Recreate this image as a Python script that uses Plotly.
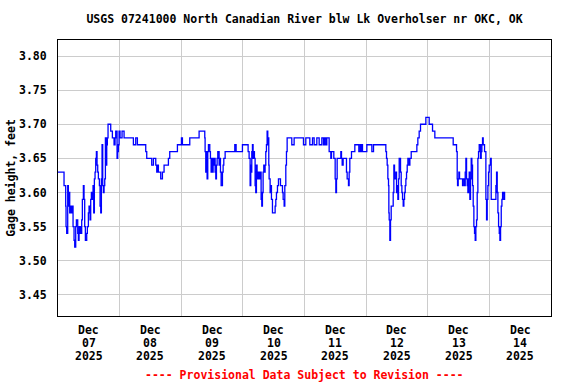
import pandas as pd
import plotly.graph_objects as go

# Hours since 2025-12-07 00:00 and gage height (ft)
hours = [0.0, 2.35, 3.0, 3.13, 3.39, 3.78, 4.04, 4.3, 4.56, 4.82, 5.21, 5.6, 5.86, 6.25, 6.51,
         6.9, 7.16, 7.68, 7.94, 8.2, 8.46, 8.72, 8.98, 9.23, 9.49, 9.88, 10.14, 10.4, 10.66,
         11.18, 11.44, 11.83, 12.09, 12.48, 12.74, 13.0, 13.39, 13.65, 13.91, 14.17, 14.43,
         14.69, 14.95, 15.21, 15.47, 15.73, 16.12, 16.38, 16.64, 16.9, 17.16, 17.42, 17.68,
         17.94, 18.2, 18.46, 18.72, 18.98, 19.23, 19.49, 20.53, 21.18, 21.83, 22.22, 22.48,
         23.0, 23.26, 23.52, 23.78, 24.17, 24.95, 25.73, 29.36, 30.27, 30.92, 34.17, 34.56,
         36.12, 36.5, 37.16, 38.07, 38.46, 38.72, 39.1, 40.0, 40.67, 41.31, 43.0, 43.52,
         46.51, 48.07, 48.46, 51.32, 54.95, 57.16, 57.29, 57.55, 57.81, 58.07, 58.33, 58.59,
         59.11, 59.37, 59.63, 59.89, 60.15, 60.41, 60.67, 60.93, 61.19, 61.45, 61.71, 61.97,
         62.23, 62.75, 63.01, 63.27, 63.53, 64.05, 64.31, 64.57, 65.09, 68.85, 69.37,
         71.83, 74.04, 74.43, 74.82, 75.08, 75.21, 75.47, 75.73, 75.98, 76.24, 76.5, 76.76,
         77.02, 77.28, 77.54, 77.8, 78.06, 78.32, 78.58, 78.84, 79.1, 79.36, 79.62, 79.88,
         80.14, 80.4, 80.66, 80.92, 81.18, 81.44, 81.7, 81.83, 82.09, 82.22, 82.61, 82.87,
         83.13, 83.52, 84.56, 84.82, 85.08, 85.47, 85.86, 86.64, 87.42, 87.68, 88.07, 88.33,
         88.72, 88.98, 89.24, 91.05, 91.96, 95.6, 96.51, 98.07, 99.11, 99.76, 100.8, 101.71,
         102.75, 103.4, 103.78, 104.3, 104.69, 105.6, 106.25, 106.51, 107.42, 107.94, 108.2,
         108.46, 108.72, 110.15, 110.41, 110.67, 111.05, 112.35, 112.61, 113.13, 113.39,
         113.65, 114.3, 115.6, 117.16, 117.68, 117.94, 118.2, 118.59, 120.28, 122.23, 122.88,
         127.68, 127.94, 128.2, 128.46, 128.72, 128.85, 128.98, 129.24, 129.5, 129.76, 130.54,
         130.8, 131.06, 131.58, 131.84, 132.1, 132.36, 132.62, 132.88, 133.4, 133.66, 133.92,
         134.18, 134.44, 134.7, 134.96, 135.22, 135.48, 135.74, 136.0, 136.26, 136.78, 137.04,
         137.56, 139.76, 140.14, 140.66, 141.18, 143.26, 144.56, 145.86, 146.76, 153.91,
         155.21, 155.47, 155.6, 155.86, 156.12, 156.38, 157.55, 157.81, 158.33, 158.59, 158.85,
         159.11, 159.37, 159.63, 159.88, 160.14, 160.4, 160.66, 160.92, 161.18, 161.44, 161.7,
         161.96, 162.22, 162.48, 162.74, 163.0, 163.26, 163.52, 163.78, 164.04, 164.56, 164.82,
         165.08, 165.34, 165.6, 166.12, 166.64, 166.9, 167.16, 167.42, 167.68, 167.94, 168.46,
         168.72, 170.54, 170.8, 171.06, 171.32, 171.58, 171.84, 172.1, 172.36, 172.62, 172.88,
         173.14, 173.66, 173.92, 174.18]
gage_ft = [3.63, 3.61, 3.58, 3.55, 3.54, 3.61, 3.58, 3.60, 3.57, 3.58, 3.57, 3.58, 3.55, 3.53, 3.52,
           3.55, 3.56, 3.54, 3.53, 3.55, 3.54, 3.55, 3.54, 3.56, 3.59, 3.61, 3.59, 3.55, 3.53,
           3.54, 3.55, 3.57, 3.58, 3.56, 3.59, 3.60, 3.59, 3.61, 3.57, 3.62, 3.63,
           3.65, 3.66, 3.64, 3.63, 3.62, 3.61, 3.58, 3.57, 3.62, 3.67, 3.61, 3.60,
           3.61, 3.62, 3.68, 3.64, 3.67, 3.68, 3.70, 3.69, 3.68, 3.67, 3.68, 3.69,
           3.65, 3.66, 3.67, 3.69, 3.68, 3.69, 3.68, 3.67, 3.68, 3.67, 3.66, 3.65,
           3.65, 3.64, 3.65, 3.64, 3.63, 3.64, 3.63, 3.62, 3.63, 3.64, 3.65, 3.66,
           3.67, 3.68, 3.67, 3.68, 3.69, 3.68, 3.66, 3.63, 3.66, 3.62, 3.66, 3.67,
           3.66, 3.65, 3.63, 3.65, 3.63, 3.65, 3.64, 3.65, 3.63, 3.62, 3.64, 3.65,
           3.66, 3.64, 3.65, 3.63, 3.61, 3.63, 3.64, 3.65, 3.66, 3.67, 3.66,
           3.67, 3.66, 3.65, 3.61, 3.64, 3.63, 3.66, 3.67, 3.65, 3.66, 3.65, 3.61,
           3.60, 3.64, 3.62, 3.63, 3.62, 3.63, 3.62, 3.63, 3.59, 3.58, 3.60, 3.63,
           3.64, 3.63, 3.64, 3.66, 3.67, 3.69, 3.67, 3.68, 3.64, 3.62, 3.60, 3.61,
           3.59, 3.57, 3.58, 3.59, 3.60, 3.61, 3.62, 3.61, 3.60, 3.59, 3.58, 3.61,
           3.64, 3.66, 3.68, 3.67, 3.68, 3.67, 3.68, 3.67, 3.68, 3.67, 3.68, 3.67,
           3.68, 3.67, 3.68, 3.67, 3.68, 3.66, 3.65, 3.66, 3.65, 3.62, 3.60,
           3.62, 3.65, 3.66, 3.65, 3.64, 3.65, 3.63, 3.62, 3.61, 3.63,
           3.65, 3.66, 3.67, 3.66, 3.67, 3.66, 3.67, 3.66, 3.67, 3.66, 3.67,
           3.66, 3.65, 3.64, 3.62, 3.61, 3.57, 3.56, 3.53, 3.56, 3.58, 3.60,
           3.64, 3.62, 3.63, 3.60, 3.61, 3.59, 3.62, 3.65, 3.63, 3.61, 3.60,
           3.59, 3.58, 3.59, 3.60, 3.61, 3.62, 3.63, 3.64, 3.65, 3.64, 3.65,
           3.66, 3.67, 3.68, 3.69, 3.70, 3.71, 3.70, 3.69, 3.68, 3.67,
           3.66, 3.62, 3.61, 3.62, 3.63, 3.62, 3.61, 3.62, 3.61, 3.63, 3.65,
           3.62, 3.61, 3.60, 3.62, 3.63, 3.59, 3.62, 3.65, 3.64, 3.61, 3.58,
           3.55, 3.54, 3.53, 3.55, 3.56, 3.60, 3.65, 3.66, 3.67, 3.65, 3.66,
           3.67, 3.68, 3.67, 3.66, 3.59, 3.56, 3.59, 3.61, 3.63, 3.64, 3.65,
           3.59, 3.61, 3.63, 3.60, 3.57, 3.55, 3.54, 3.53, 3.55, 3.58, 3.59,
           3.60, 3.59, 3.60, 3.60]

day_labels = ["07", "08", "09", "10", "11", "12", "13", "14"]
month_label = "Dec"
year_label = "2025"
y_ticks = [3.45, 3.50, 3.55, 3.60, 3.65, 3.70, 3.75, 3.80]

start = pd.Timestamp("2025-12-07 00:00")
times = [start + pd.Timedelta(hours=h) for h in hours]
tick_vals = [start + pd.Timedelta(days=i, hours=12) for i in range(len(day_labels))]
grid_vals = [start + pd.Timedelta(days=i) for i in range(1, len(day_labels))]

FONT = "DejaVu Sans Mono"
FS = 11.5

fig = go.Figure()
fig.add_trace(go.Scatter(x=times, y=gage_ft, mode="lines", line_shape="hv",
                         line=dict(color="#0000ff", width=1.3), showlegend=False))

fig.update_layout(
    width=576, height=384,
    margin=dict(l=58, r=25, t=40, b=68, autoexpand=False),
    paper_bgcolor="white", plot_bgcolor="white",
    font=dict(family=FONT, size=FS, color="black"),
    title=dict(text="<b>USGS 07241000 North Canadian River blw Lk Overholser nr OKC, OK</b>",
               x=0.5, xref="paper", xanchor="center", y=1 - 19 / 384, yanchor="middle",
               font=dict(family=FONT, size=FS, color="black")),
)
fig.update_xaxes(
    range=[start, start + pd.Timedelta(days=8)],
    tickmode="array", tickvals=tick_vals, ticktext=["" for _ in tick_vals],
    showgrid=False, ticks="", automargin=False,
    showline=True, linecolor="black", linewidth=1, mirror=True,
    minor=dict(tickmode="array", tickvals=grid_vals, showgrid=True, gridcolor="#cccccc", gridwidth=1, ticks=""),
    zeroline=False,
)
fig.update_yaxes(
    range=[3.419, 3.8235], automargin=False,
    tickmode="array", tickvals=y_ticks, ticktext=[f"<b>{v:.2f}</b>" for v in y_ticks],
    showgrid=True, gridcolor="#cccccc", gridwidth=1, ticks="", ticklabelstandoff=8,
    showline=True, linecolor="black", linewidth=1, mirror=True, zeroline=False,
    title=dict(text="<b>Gage height, feet</b>", standoff=0, font=dict(family=FONT, size=FS)),
)
# Three-line date labels, one annotation per line so line spacing matches
for tv, d in zip(tick_vals, day_labels):
    for k, line in enumerate([month_label, d, year_label]):
        fig.add_annotation(text=f"<b>{line}</b>", x=tv, xref="x", y=0, yref="paper",
                           yanchor="middle", yshift=-14 - 13 * k, showarrow=False,
                           font=dict(family=FONT, size=FS, color="black"))
fig.add_annotation(text="<b>---- Provisional Data Subject to Revision ----</b>",
                   xref="paper", yref="paper", x=0.5, y=-59 / 276, yanchor="middle",
                   showarrow=False, font=dict(family=FONT, size=FS, color="#ff0000"))

fig.write_html("out.html", config={"displayModeBar": False},
               post_script="document.body.style.margin='0';")
